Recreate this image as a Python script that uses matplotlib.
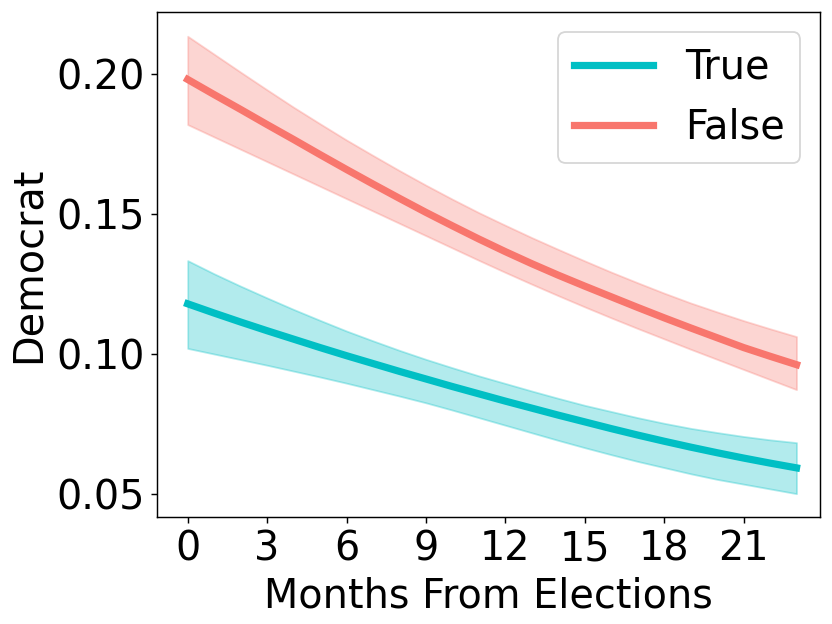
import numpy as np
import matplotlib
matplotlib.use("Agg")
from matplotlib import pyplot as plt

months = list(range(24))

# series "True"
true_mid = [0.1179, 0.1146, 0.1114, 0.1083, 0.1053, 0.1023, 0.0994, 0.0966,
            0.0938, 0.0911, 0.0884, 0.0858, 0.0832, 0.0807, 0.0782, 0.0758,
            0.0734, 0.0711, 0.0689, 0.0668, 0.0648, 0.0629, 0.0611, 0.0594]
true_hi = [0.1333, 0.1286, 0.1242, 0.1200, 0.1159, 0.1120, 0.1082, 0.1047,
           0.1013, 0.0981, 0.0951, 0.0922, 0.0895, 0.0868, 0.0842, 0.0817,
           0.0795, 0.0773, 0.0753, 0.0735, 0.0720, 0.0706, 0.0694, 0.0684]
true_lo = [0.1020, 0.1000, 0.0980, 0.0960, 0.0939, 0.0918, 0.0896, 0.0873,
           0.0850, 0.0826, 0.0800, 0.0773, 0.0746, 0.0719, 0.0692, 0.0666,
           0.0641, 0.0617, 0.0595, 0.0573, 0.0553, 0.0536, 0.0519, 0.0502]

# series "False"
false_mid = [0.1979, 0.1925, 0.1872, 0.1818, 0.1765, 0.1711, 0.1658, 0.1606,
             0.1555, 0.1505, 0.1457, 0.1410, 0.1365, 0.1322, 0.1281, 0.1242,
             0.1204, 0.1166, 0.1129, 0.1093, 0.1058, 0.1023, 0.0992, 0.0962]
false_hi = [0.2133, 0.2069, 0.2005, 0.1942, 0.1880, 0.1821, 0.1763, 0.1708,
            0.1654, 0.1602, 0.1552, 0.1504, 0.1459, 0.1415, 0.1373, 0.1332,
            0.1292, 0.1254, 0.1217, 0.1182, 0.1150, 0.1119, 0.1090, 0.1062]
false_lo = [0.1818, 0.1774, 0.1730, 0.1686, 0.1642, 0.1598, 0.1554, 0.1510,
            0.1466, 0.1422, 0.1378, 0.1334, 0.1291, 0.1249, 0.1208, 0.1168,
            0.1129, 0.1091, 0.1054, 0.1017, 0.0981, 0.0945, 0.0909, 0.0873]

xticks = [0, 3, 6, 9, 12, 15, 18, 21]
yticks = [0.05, 0.10, 0.15, 0.20]

teal = "#00BFC4"
salmon = "#F8766D"

fig, ax = plt.subplots(figsize=(6.4, 4.8), dpi=130)
fig.subplots_adjust(left=0.189, right=0.986, top=0.981, bottom=0.172)

ax.fill_between(months, true_lo, true_hi, color=teal, alpha=0.3)
ax.plot(months, true_mid, color=teal, lw=4, label="True")
ax.fill_between(months, false_lo, false_hi, color=salmon, alpha=0.3)
ax.plot(months, false_mid, color=salmon, lw=4, label="False")

ax.set_xticks(xticks)
ax.set_yticks(yticks)
ax.set_yticklabels(["%.2f" % v for v in yticks])
ax.tick_params(labelsize=22)
ax.set_xlabel("Months From Elections", fontsize=22)
ax.set_ylabel("Democrat", fontsize=22)
ax.set_xlim(-1.15, 23.9)
ax.set_ylim(0.042, 0.222)
ax.legend(fontsize=22, loc="upper right")

plt.savefig("out.png")
